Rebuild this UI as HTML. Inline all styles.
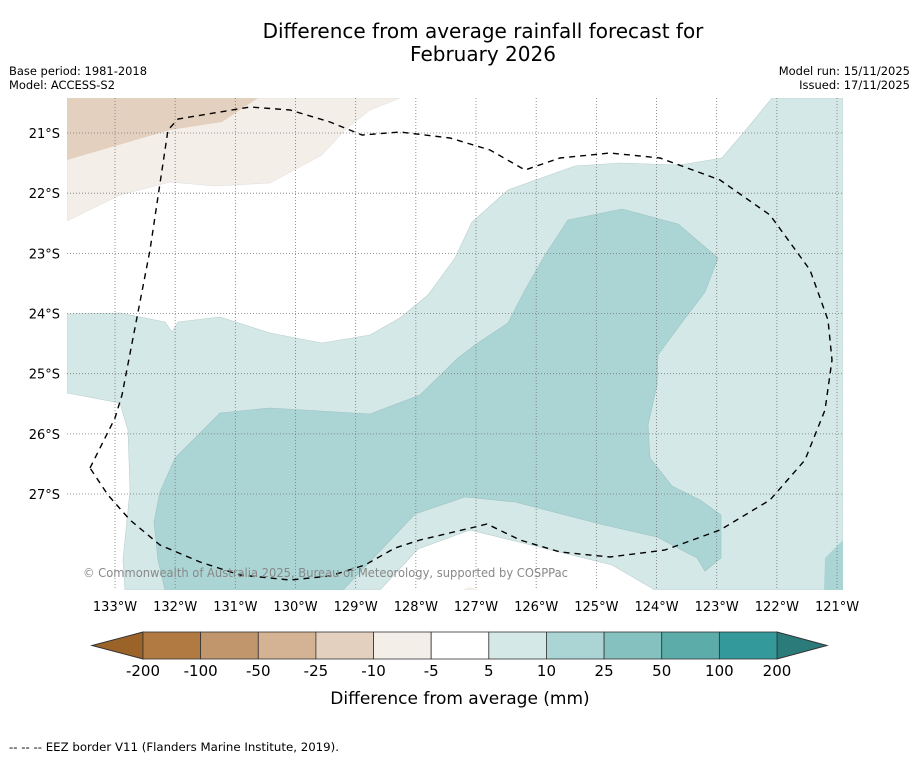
<!DOCTYPE html>
<html><head><meta charset="utf-8"><style>
body{margin:0;background:#fff;width:919px;height:758px;overflow:hidden;font-family:"DejaVu Sans","Liberation Sans",sans-serif}
svg{display:block}
</style></head><body>
<svg id="chart" width="919" height="758" viewBox="0 0 919 758" xmlns="http://www.w3.org/2000/svg">
<text x="483" y="38" font-size="20" text-anchor="middle" fill="#000">Difference from average rainfall forecast for</text>
<text x="483" y="61" font-size="20" text-anchor="middle" fill="#000">February 2026</text>
<text x="9" y="75" font-size="11.5" textLength="138" lengthAdjust="spacingAndGlyphs">Base period: 1981-2018</text>
<text x="9" y="89" font-size="11.5" textLength="106" lengthAdjust="spacingAndGlyphs">Model: ACCESS-S2</text>
<text x="910" y="75" font-size="11.5" text-anchor="end">Model run: 15/11/2025</text>
<text x="910" y="89" font-size="11.5" text-anchor="end">Issued: 17/11/2025</text>
<defs><clipPath id="mapclip"><rect x="67" y="98" width="776" height="492"/></clipPath></defs>
<g id="map" clip-path="url(#mapclip)">
<rect x="67" y="98" width="776" height="492" fill="#fff"/>
<polygon fill="#f3eee8" stroke="#ddd" stroke-width="0.5" points="67,98 400,98 370,110 345,130 322,155 270,183 215,186 170,182 120,195 67,221"/>
<polygon fill="#e3d0bf" points="67,98 258,98 222,122 170,130 67,160"/>
<polygon fill="#d4e8e7" stroke="#b8cfce" stroke-width="0.6" points="67,314 120,313 165,322 172,332 178,322 220,317 270,333 322,343 370,335 400,318 428,295 455,258 472,222 508,190 575,166 620,163 680,165 722,158 750,125 772,98 843,98 843,590 655,590 612,565 470,530 418,549 380,590 125,590 123,560 130,490 128,430 120,403 67,393"/>
<polygon fill="#abd5d4" stroke="#9cc3c2" stroke-width="0.6" points="165,590 158,560 154,522 160,492 175,458 220,413 270,408 370,414 420,395 458,358 475,345 508,323 525,290 545,255 568,220 622,209 678,224 718,258 705,292 680,325 658,355 657,385 648,425 650,458 672,486 700,500 721,515 721,558 705,571 697,558 657,537 600,524 515,502 465,497 415,514 343,590"/>
<polygon fill="#abd5d4" points="843,540 825,558 824,590 843,590"/>
<polygon fill="#f3eee8" points="462,590 470,587 478,590"/>
<g id="grid"></g>
<polyline fill="none" stroke="#000" stroke-width="1.4" stroke-dasharray="6,5" points="90,468 115,418 122,395 150,250 168,130 178,119 250,107 290,110 330,122 362,135 400,132 450,138 490,150 525,170 560,158 610,153 660,158 720,180 770,215 810,270 828,320 832,360 825,410 805,460 770,500 720,530 665,550 610,557 560,552 520,540 487,524 475,527 420,540 395,548 365,565 330,576 290,580 240,575 200,562 160,545 130,520 108,495 90,468"/>
<text x="83" y="577" font-size="12" fill="#888" textLength="485" lengthAdjust="spacingAndGlyphs">© Commonwealth of Australia 2025, Bureau of Meteorology, supported by COSPPac</text>
</g>
<g id="axes"></g>
<g id="colorbar"></g>
<text x="460" y="704" font-size="17" text-anchor="middle">Difference from average (mm)</text>
<text x="9" y="751" font-size="11.5" textLength="330" lengthAdjust="spacingAndGlyphs">--  --  -- EEZ border V11 (Flanders Marine Institute, 2019).</text>
</svg>
<script>
const lonTicks=[133,132,131,130,129,128,127,126,125,124,123,122,121];
const latTicks=[21,22,23,24,25,26,27];
const latLabels=["21°S","22°S","23°S","24°S","25°S","26°S","27°S"];
const cbLevels=["-200","-100","-50","-25","-10","-5","5","10","25","50","100","200"];
const cbColors=["#b07a42","#c2966c","#d4b394","#e3d0bf","#f3eee8","#ffffff","#d4e8e7","#abd5d4","#85c1bf","#5cacaa","#33999a"];
const NS="http://www.w3.org/2000/svg";
const xScale=lon=>115+(133-lon)*60.17;
const yScale=lat=>133+(lat-21)*60.17;
function mk(tag,attrs,parent){const e=document.createElementNS(NS,tag);for(const k in attrs)e.setAttribute(k,attrs[k]);parent.appendChild(e);return e;}
const grid=document.getElementById('grid'),axes=document.getElementById('axes'),cb=document.getElementById('colorbar');
lonTicks.forEach(l=>{const x=xScale(l);
 const g=mk('line',{x1:x,x2:x,y1:98,y2:590,stroke:'#777','stroke-width':0.8,'stroke-dasharray':'1,2'},grid);
 
 
 const t=mk('text',{x:x,y:611,'font-size':13,'text-anchor':'middle'},axes);t.textContent=l+'°W';
 
 
});
latTicks.forEach((l,i)=>{const y=yScale(l);
 const g=mk('line',{x1:67,x2:843,y1:y,y2:y,stroke:'#777','stroke-width':0.8,'stroke-dasharray':'1,2'},grid);
 
 
 const t=mk('text',{x:60,y:y+5,'font-size':13,'text-anchor':'end'},axes);t.textContent=latLabels[i];
 
 
});
const x0=143,x1=777,cy0=632,cy1=659,n=cbColors.length,w=(x1-x0)/n;
const lt=mk('polygon',{points:`${x0},${cy0} 92,${(cy0+cy1)/2} ${x0},${cy1}`,fill:'#9c6329',stroke:'#333','stroke-width':1},cb);


const rt=mk('polygon',{points:`${x1},${cy0} 827,${(cy0+cy1)/2} ${x1},${cy1}`,fill:'#2a7b7a',stroke:'#333','stroke-width':1},cb);


cbColors.forEach((c,i)=>{const r=mk('rect',{x:x0+i*w,y:cy0,width:w,height:cy1-cy0,fill:c,stroke:'#333','stroke-width':0.8},cb);
 
 });
cbLevels.forEach((s,i)=>{const t=mk('text',{x:x0+i*w,y:676,'font-size':15,'text-anchor':'middle'},cb);t.textContent=s;
 
 });
</script>
</body></html>
